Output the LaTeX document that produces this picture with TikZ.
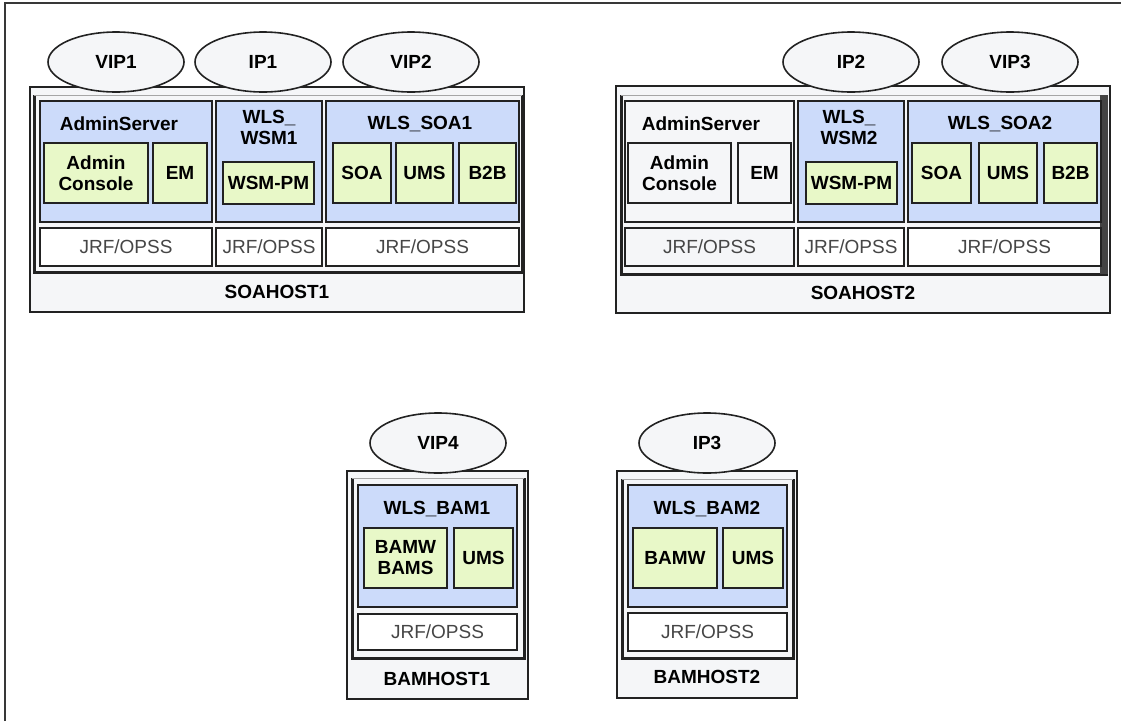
\documentclass[tikz,border=0pt]{standalone}
\usepackage{fontspec}
\setmainfont{Liberation Sans}
\usetikzlibrary{shapes.geometric}
\definecolor{srvblue}{RGB}{204,219,250}
\definecolor{appgreen}{RGB}{232,248,200}
\definecolor{hostgray}{RGB}{245,246,248}
\definecolor{edge}{RGB}{34,34,34}
\definecolor{jrftext}{RGB}{70,70,70}

\begin{document}
\begin{tikzpicture}[x=1pt,y=-1pt,
  every node/.style={font=\fontsize{19}{21}\selectfont\bfseries, inner sep=0pt},
  host/.style={rectangle, draw=edge, line width=1.5pt, fill=hostgray},
  srv/.style={rectangle, draw=edge, line width=1.6pt, fill=srvblue},
  srvgray/.style={srv, fill=hostgray},
  app/.style={rectangle, draw=edge, line width=1.8pt, fill=appgreen, align=center},
  appgray/.style={app, fill=hostgray},
  jrf/.style={rectangle, draw=edge, line width=1.6pt, fill=white, font=\fontsize{19}{21}\selectfont, text=jrftext},
  jrfgray/.style={jrf, fill=hostgray},
  vipnode/.style={ellipse, draw=edge, line width=1.6pt, fill=hostgray, minimum width=136pt, minimum height=60pt},
  lbl/.style={align=center}]
\useasboundingbox (0,0) rectangle (1121,721);
\def\bx#1#2#3#4#5#6#7{\node[#1, minimum width={(#5-#3)*1pt}, minimum height={(#6-#4)*1pt}] (#2) at ({(#3+#5)/2},{(#4+#6)/2}) {#7};}
\def\frm#1#2#3#4{\draw[edge, line width=3pt] (#1,#2) -- (#1,#4) -- (#3,#4) -- (#3,#2);
  \draw[gray!70, line width=0.8pt] (#1,#2) -- (#3,#2);}

% frame
\draw[edge!90, line width=2.5pt] (5,721) -- (5,3) -- (1121,3);

% SOAHOST1
\bx{host}{soa1}{30}{87}{524}{312}{}
\frm{34}{95}{522}{272}
\bx{srv}{adm1}{40}{101}{212}{222}{}
\bx{srv}{wsm1}{216}{101}{322}{222}{}
\bx{srv}{soa1srv}{326}{101}{519}{222}{}
\bx{app}{cons1}{44}{143}{148}{203}{Admin\\Console}
\bx{app}{em1}{153}{143}{207}{203}{EM}
\bx{app}{wsmpm1}{223}{162}{314}{204}{WSM-PM}
\bx{app}{soaapp1}{333}{143}{391}{203}{SOA}
\bx{app}{ums1}{396}{143}{453}{203}{UMS}
\bx{app}{btb1}{459}{143}{516}{203}{B2B}
\bx{jrf}{jrf1a}{40}{228}{212}{266}{JRF/OPSS}
\bx{jrf}{jrf1b}{216}{228}{322}{266}{JRF/OPSS}
\bx{jrf}{jrf1c}{326}{228}{519}{266}{JRF/OPSS}
\node (adm1lbl) at (119,124) {AdminServer};
\node[lbl] (wsm1lbl) at (269,127) {WLS\_\\WSM1};
\node (soa1lbl) at (420,124) {WLS\_SOA1};
\node (soa1host) at (277,292) {SOAHOST1};

% SOAHOST2
\bx{host}{soa2}{616}{86}{1110}{313}{}
\frm{621}{95}{1106}{274}
\fill[edge!85] (1100,95) rectangle (1108,274);
\bx{srvgray}{adm2}{625}{101}{794}{222}{}
\bx{srv}{wsm2}{798}{101}{904}{222}{}
\bx{srv}{soa2srv}{908}{101}{1101}{222}{}
\bx{appgray}{cons2}{628}{143}{731}{203}{Admin\\Console}
\bx{appgray}{em2}{738}{143}{791}{203}{EM}
\bx{app}{wsmpm2}{806}{162}{897}{204}{WSM-PM}
\bx{app}{soaapp2}{912}{143}{971}{203}{SOA}
\bx{app}{ums2}{979}{143}{1037}{203}{UMS}
\bx{app}{btb2}{1044}{143}{1097}{203}{B2B}
\bx{jrfgray}{jrf2a}{625}{228}{794}{266}{JRF/OPSS}
\bx{jrf}{jrf2b}{798}{228}{904}{266}{JRF/OPSS}
\bx{jrf}{jrf2c}{908}{228}{1101}{266}{JRF/OPSS}
\node (adm2lbl) at (701,124) {AdminServer};
\node[lbl] (wsm2lbl) at (849,127) {WLS\_\\WSM2};
\node (soa2lbl) at (1000,124) {WLS\_SOA2};
\node (soa2host) at (863,293) {SOAHOST2};

% BAMHOST1
\bx{host}{bam1}{347}{471}{528}{699}{}
\frm{352}{478}{524}{658}
\bx{srv}{bam1srv}{358}{485}{517}{607}{}
\bx{app}{bamw1}{364}{528}{447}{588}{BAMW\\BAMS}
\bx{app}{ums3}{454}{528}{513}{588}{UMS}
\bx{jrf}{jrf3}{358}{614}{517}{650}{JRF/OPSS}
\node (bam1lbl) at (437,509) {WLS\_BAM1};
\node (bam1host) at (437,679) {BAMHOST1};

% BAMHOST2
\bx{host}{bam2}{617}{471}{797}{698}{}
\frm{622}{479}{793}{658}
\bx{srv}{bam2srv}{628}{485}{787}{607}{}
\bx{app}{bamw2}{633}{528}{717}{588}{BAMW}
\bx{app}{ums4}{723}{528}{783}{588}{UMS}
\bx{jrf}{jrf4}{628}{613}{787}{651}{JRF/OPSS}
\node (bam2lbl) at (707,509) {WLS\_BAM2};
\node (bam2host) at (707,677) {BAMHOST2};

% addresses
\foreach \n/\x/\y in {VIP1/116/62, IP1/263/62, VIP2/411/62, IP2/851/62, VIP3/1010/62, VIP4/438/443, IP3/707/443}
  \node[vipnode] (\n) at (\x,\y) {\n};

\end{tikzpicture}
\end{document}
